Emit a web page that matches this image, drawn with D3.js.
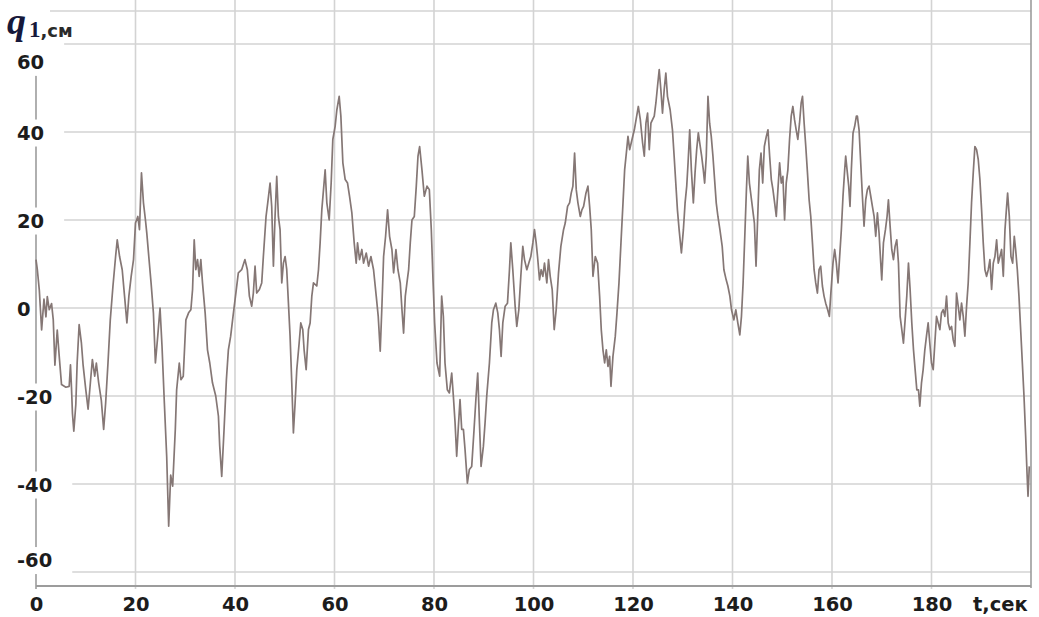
<!DOCTYPE html>
<html><head><meta charset="utf-8">
<script src="https://cdn.jsdelivr.net/npm/d3@7"></script>
<style>body{margin:0;background:#fff}svg{display:block}</style>
</head><body>
<svg id="c" width="1039" height="617"></svg>
<script>
// ---- data ----
const xTicks = [0, 20, 40, 60, 80, 100, 120, 140, 160, 180];
const yTicks = [60, 40, 20, 0, -20, -40, -60];
const xTitle = "t,сек";

const timeA = [0,0.27,0.67,1.13,1.6,2.0,2.27,2.67,3.13,3.47,
  3.8,4.27,4.67,5.13,6.0,6.67,6.93,7.13,7.33,7.6,
  8.0,8.27,8.67,9.13,9.47,10.0,10.47,10.93,11.33,11.8,
  12.13,12.6,13.13,13.6,14.0,14.47,14.93,15.47,16.0,16.33,
  16.8,17.33,17.8,18.27,18.67,19.13,19.6,20.0,20.47,20.8,
  21.2,21.6,22.0,22.27,22.67,23.13,23.6,24.0,24.47,24.93,
  25.33,25.8,26.27,26.67,27.07,27.47,28.0,28.27,28.8,29.13,
  29.6,30.13,30.67,31.13,31.47,31.8,32.13,32.47,32.8,33.13,
  33.47,34.0,34.47,34.93,35.47,36.13,36.67,36.93,37.33,37.8,
  38.27,38.67,39.13,39.6,40.13];
const q1A = [11,8.7,4,-5,2,-2,2.6,-0.4,1,-2.7,
  -13,-5,-11,-17.4,-18,-17.8,-12.9,-18,-24,-28,
  -22,-12.5,-3.8,-8,-13,-18.5,-23,-17,-11.7,-15.5,
  -12.5,-17,-21,-27.6,-21.6,-12.5,-2.7,5,11.7,15.5,
  11.7,8.7,2.7,-3.4,2.7,7.2,11,19.3,20.8,17.8,
  30.7,23.9,20,17,11.7,5.7,-1.1,-12.5,-6.4,0,
  -8.7,-21.6,-33.7,-49.6,-38,-40.5,-27.6,-18.6,-12.5,-16.3,
  -15.5,-2.7,-1.1,-0.4,4.2,15.5,8.7,11,7.2,11,
  5.7,-1.1,-9.5,-12.5,-17,-20,-24.6,-31.4,-38.3,-27.6,
  -16.3,-9.5,-6.4,-1.9,3];

const timeB = [40.67,41.34,42.0,42.48,42.89,43.36,43.69,44.03,44.36,44.9,
  45.37,45.7,46.24,46.58,47.05,47.38,47.72,48.05,48.39,48.72,
  49.06,49.4,49.73,50.07,50.4,50.74,51.07,51.41,51.74,52.08,
  52.42,52.89,53.22,53.62,53.89,54.3,54.77,55.1,55.44,55.77,
  56.44,56.78,57.11,57.45,57.79,58.12,58.46,58.93,59.33,59.66,
  60.13,60.47,60.94,61.28,61.68,62.15,62.62,63.02,63.49,63.96,
  64.36,64.63,65.03,65.5,65.84,66.38,66.85,67.32,67.85,68.39,
  68.79,69.19,69.53,69.87,70.27,70.67,71.07,71.54,71.88,72.35,
  72.75,73.22,73.56,73.89,74.23,74.56,74.9,75.23,75.57,76.04,
  76.44,76.78,77.11,77.58,78.05,78.59,79.06,79.46,79.8,80.13,
  80.6,81.14];
const q1B = [8,8.7,11,8.7,2.7,0.4,3.4,9.5,3.4,4.2,
  5.7,11.7,20.8,23.9,28.4,23,9.5,20.8,29.9,20.8,
  17.8,5.7,10.2,11.7,8.7,1.1,-6.4,-17,-28.4,-21.6,
  -14,-8,-3.4,-4.9,-9.5,-14,-4.9,-3.4,2.7,5.7,
  5,8.7,14.8,22.3,26.9,31.4,23.9,20,28.4,38.3,
  41.3,45,48.1,43.6,33,29.2,28.4,25.4,21.6,14.8,
  10.2,14.8,11,13.3,10.2,12.5,9.5,11.7,8.7,2.7,
  -1.9,-9.8,0.4,11.7,16.3,22.3,16.3,13.3,8,13.3,
  8.7,5.7,-0.4,-5.7,2.7,5.7,8.7,14.8,20,20.8,
  27.7,34.5,36.7,31.4,25.4,27.7,26.9,17.8,6.4,-3.4,
  -12.5,-15.5];

const timeC = [81.54,81.88,82.21,82.68,83.09,83.56,83.89,84.23,84.56,84.9,
  85.23,85.57,85.91,86.24,86.71,87.11,87.58,88.05,88.46,88.79,
  89.13,89.46,89.93,90.27,90.6,91.14,91.61,91.95,92.42,92.82,
  93.15,93.49,93.83,94.3,94.77,95.17,95.44,95.84,96.31,96.64,
  97.05,97.45,97.85,98.19,98.66,99.06,99.46,99.87,100.2,100.54,
  100.81,101.21,101.54,101.88,102.21,102.68,103.02,103.36,103.76,104.16,
  104.56,105.03,105.5,106.04,106.38,106.85,107.25,107.58,107.92,108.26,
  108.59,108.93,109.4,109.73,110.07,110.54,110.94,111.28,111.61,111.95,
  112.42,112.89,113.29,113.62,113.96,114.3,114.63,114.97,115.3,115.57,
  115.97,116.44,116.78,117.18,117.58,117.99,118.32,118.66,118.99,119.33,
  119.8,120.27];
const q1C = [2.7,-1.9,-12.5,-18.6,-19.3,-14.8,-20,-26,-33.7,-26.9,
  -20.8,-27.6,-27.6,-32.2,-39.8,-36.7,-36,-27.6,-20,-14.8,
  -26,-36,-31.4,-26,-20,-12.5,-3.4,-0.4,1.1,-1.1,
  -4.9,-11,-3.4,0.4,1.1,8.7,14.8,8.7,0.4,-4.2,
  -0.4,7.2,14,11,8.7,10.2,11.7,14.8,17.8,14.8,
  11.7,6.4,8.7,7.2,10.2,5.7,11,7.2,4.2,-4.9,
  -0.4,8,14,17.8,19.3,23.1,23.9,26.1,27.7,35.2,
  26.9,23.9,20.8,22.3,23.1,26.1,27.7,23.1,17.8,7.2,
  11.7,10.2,2.7,-4.9,-9.5,-12.5,-9.5,-13.3,-11,-17.8,
  -11,-6.4,-1.1,5.7,14.8,23.9,31.4,35.2,39,36,
  38.3,40.5];

const timeD = [121.07,121.47,121.93,122.27,122.6,122.93,123.27,123.6,123.93,124.27,
  124.6,124.93,125.27,125.6,125.93,126.27,126.6,126.93,127.47,127.93,
  128.27,128.6,128.93,129.27,129.73,130.13,130.47,130.8,131.07,131.4,
  131.73,132.13,132.47,132.8,133.13,133.47,133.8,134.13,134.4,134.73,
  135.07,135.4,135.73,136.07,136.4,136.73,137.07,137.47,137.93,138.27,
  138.73,139.07,139.47,139.8,140.27,140.67,141.07,141.47,141.8,142.13,
  142.47,142.8,143.07,143.4,143.73,144.07,144.4,144.73,145.07,145.4,
  145.73,146.07,146.4,146.8,147.13,147.47,147.8,148.13,148.47,148.8,
  149.13,149.47,149.8,150.13,150.47,150.8,151.13,151.47,151.8,152.13,
  152.47,152.8,153.13,153.47,153.8,154.07,154.4,154.73,155.07,155.4,
  155.73,156.07,156.4,156.73,157.07,157.4,157.73,158.07,158.4,158.73,
  159.13,159.47];
const q1D = [45.8,42.8,37.5,34.5,42,44.3,36,42,42.8,43.6,
  46.6,50.4,54.2,49.6,44.3,49.6,53.4,48.1,45,40.5,
  34.5,28.4,22.3,17.8,12.5,17.8,23.9,27.7,33,40.5,
  31.4,23.9,30.7,36,39.8,37.1,34.5,31.4,28.4,34.5,
  48.1,42,39,34.5,29.2,23.9,20.8,17.8,14,8.7,
  6.4,5,2.7,-0.4,-2.7,-0.4,-3.4,-6.1,-1.9,5.7,
  16.3,26.9,34.5,28.4,25.4,22.3,19.3,9.5,20.8,31.4,
  35.2,28.4,36.7,39,40.5,34.5,29.2,26.9,23.9,20.8,
  26.9,33,28.4,29.9,20,28.4,31.4,38.3,43.6,45.8,
  42.8,40.5,38.3,42,46.6,48.1,42,36.7,30.7,24.6,
  20.8,14.8,8.7,5.7,3.4,8.7,9.5,5,2.7,1.1,
  -0.4,-1.9];

const timeE = [159.73,160.2,160.54,160.87,161.21,161.54,161.88,162.21,162.55,162.75,
  163.09,163.36,163.62,163.89,164.23,164.56,164.9,165.1,165.44,165.77,
  166.11,166.44,166.78,167.11,167.45,167.79,168.12,168.46,168.79,169.13,
  169.46,169.8,170.0,170.34,170.74,171.07,171.34,171.68,172.01,172.35,
  172.68,173.02,173.36,173.69,174.03,174.36,174.7,175.03,175.37,175.7,
  176.04,176.38,176.71,177.05,177.38,177.65,177.99,178.32,178.66,178.99,
  179.33,179.66,180.0,180.34,180.67,181.01,181.34,181.68,182.01,182.35,
  182.68,183.02,183.36,183.69,184.03,184.36,184.7,185.03,185.37,185.7,
  186.04,186.38,186.71,187.05,187.38,187.72,188.05,188.39,188.72,189.06,
  189.4,189.73,190.07,190.4,190.74,191.07,191.41,191.74,192.08,192.42,
  192.75,193.09,193.42,193.76,194.09,194.43,194.77,195.1,195.3,195.64,
  195.97,196.31,196.64,196.91,197.25,197.58,197.92,198.26,198.59,198.93,
  199.2,199.4,199.66];
const q1E = [2.7,10.2,13.3,10.2,5.7,11.7,17.8,25.4,31.4,34.5,
  30.7,27.7,23.1,31.4,39.8,41.3,43.6,43.6,40.5,33,
  25.4,18.6,24.6,26.9,27.7,25.4,23.1,20.8,16.3,21.6,
  17,10.2,6.4,14.8,17.8,20.8,24.6,18.6,13.3,11,
  14,15.5,10.2,-1.9,-4.9,-8,-2.7,2.7,10.2,4.2,
  -3.4,-9.5,-14,-18.6,-18.6,-22.3,-17,-14,-9.5,-6.4,
  -3.4,-8,-12.5,-14,-8,-1.9,-3.4,-4.9,-1.1,-0.4,
  -1.9,2.7,-3.4,-4.9,-4.2,-7.2,-8.7,3.4,0.4,-2.7,
  1.1,-1.9,-6.4,0.4,5.7,14.8,23.9,30.7,36.7,36,
  33.7,29.2,22.3,14.8,8.7,7.2,8.7,11,4.2,10.2,
  11.7,15.5,10.2,11.7,13.3,7.2,17.8,23.1,26.1,20.8,
  11.7,10.2,16.3,13.3,8.7,2.7,-4.9,-12.5,-20,-29.2,
  -37.5,-42.8,-36];

const time = [].concat(timeA, timeB, timeC, timeD, timeE);
const q1 = [].concat(q1A, q1B, q1C, q1D, q1E);
const series = time.map((t, i) => ({t, v: q1[i]})).filter(d => d.v !== undefined);

// ---- drawing ----
const svg = d3.select("#c");
const x = d3.scaleLinear().domain([0, 200]).range([36, 1031]);
const y = d3.scaleLinear().domain([-60, 60]).range([572, 44]);

const gridColor = "#d3d3d3", axisColor = "#9c9c9c", textColor = "#1c1c1c";
const lineColor = "#857775";
const font = "'DejaVu Sans', Verdana, sans-serif";
const fmt = d => String(d);   // plain hyphen-minus as in the original

// vertical grid lines
svg.append("g").selectAll("line").data(xTicks.filter(d => d > 0)).join("line")
  .attr("x1", d => x(d)).attr("x2", d => x(d)).attr("y1", 0).attr("y2", 589)
  .attr("stroke", gridColor).attr("stroke-width", 1.6);

// frame pieces
svg.append("line").attr("x1", 50).attr("x2", x(200)).attr("y1", 11).attr("y2", 11)
  .attr("stroke", gridColor).attr("stroke-width", 1.6);
svg.append("line").attr("x1", x(200)).attr("x2", x(200)).attr("y1", 0).attr("y2", 588)
  .attr("stroke", axisColor).attr("stroke-width", 1.6);
svg.append("line").attr("x1", x(0)).attr("x2", x(200)).attr("y1", 586).attr("y2", 586)
  .attr("stroke", axisColor).attr("stroke-width", 1.8);
svg.append("line").attr("x1", x(0)).attr("x2", x(0)).attr("y1", 72).attr("y2", 589)
  .attr("stroke", axisColor).attr("stroke-width", 1.6);

// y axis labels through d3 axis
const yAxis = svg.append("g").call(d3.axisLeft(y).tickValues(yTicks).tickSize(0).tickFormat(fmt));
yAxis.select(".domain").remove();
yAxis.selectAll("text")
  .attr("x", 17).attr("text-anchor", "start")
  .attr("dy", d => d === 60 ? "1.25em" : d === -60 ? "-0.28em" : "0.36em")
  .attr("font-family", font).attr("font-weight", "bold").attr("font-size", 19.5)
  .attr("fill", textColor);

// horizontal grid lines starting right of each label, and white boxes behind labels
const hGrid = svg.insert("g", ":first-child");
yAxis.selectAll(".tick").each(function(d) {
  const tick = d3.select(this);
  const bb = tick.select("text").node().getBBox();
  tick.insert("rect", "text").attr("x", bb.x - 2).attr("y", bb.y - 2)
    .attr("width", bb.width + 4).attr("height", bb.height + 4).attr("fill", "#fff");
  hGrid.append("line").attr("x1", bb.x + bb.width + 20).attr("x2", x(200))
    .attr("y1", y(d)).attr("y2", y(d)).attr("stroke", gridColor).attr("stroke-width", 1.6);
});

// x axis labels
const xAxis = svg.append("g").attr("transform", "translate(0,586)")
  .call(d3.axisBottom(x).tickValues(xTicks).tickSize(0).tickFormat(fmt));
xAxis.select(".domain").remove();
xAxis.selectAll("text").attr("y", 25).attr("dy", 0)
  .attr("font-family", font).attr("font-weight", "bold").attr("font-size", 19.5)
  .attr("fill", textColor);

svg.append("text").attr("x", 973).attr("y", 611).text(xTitle)
  .attr("font-family", font).attr("font-weight", "bold").attr("font-size", 19.5)
  .attr("fill", textColor);

// y title q1,см
const yt = svg.append("text").attr("x", 7).attr("y", 34);
yt.append("tspan").text("q").attr("font-family", "'Liberation Serif', serif")
  .attr("font-style", "italic").attr("font-weight", "bold").attr("font-size", 38).attr("fill", "#16183a");
yt.append("tspan").text("1").attr("dy", 3).attr("dx", 3).attr("font-family", "'Liberation Serif', serif")
  .attr("font-weight", "bold").attr("font-size", 23).attr("fill", "#16183a");
yt.append("tspan").text(",см").attr("font-family", font)
  .attr("font-weight", "bold").attr("font-size", 18).attr("fill", "#2a2a2a");

// data line
svg.append("path").datum(series)
  .attr("fill", "none").attr("stroke", lineColor)
  .attr("stroke-width", 1.7)
  .attr("stroke-linejoin", "round")
  .attr("d", d3.line().x(d => x(d.t)).y(d => y(d.v)));
</script>
</body></html>
